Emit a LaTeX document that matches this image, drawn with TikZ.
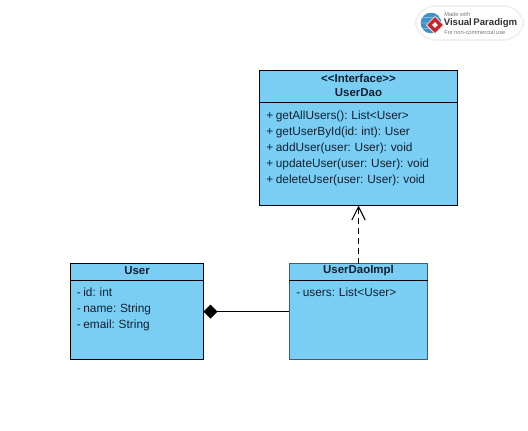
\documentclass[tikz,border=0pt]{standalone}
\usepackage{fontspec}
\setmainfont[WordSpace=0.8]{Liberation Sans}
\usetikzlibrary{arrows.meta,shapes.geometric,calc}
\definecolor{umlfill}{HTML}{7ACEF4}
\definecolor{umltext}{HTML}{102030}
\definecolor{implborder}{HTML}{4A5A66}
\definecolor{globe}{HTML}{3F93C9}
\definecolor{logored}{HTML}{C8242B}
\definecolor{logogray}{HTML}{7A7A7A}
\tikzset{
  classbox/.style={draw=black,fill=umlfill,line width=0.8pt,anchor=north west,inner sep=0pt,outer sep=0pt},
  classtitle/.style={font=\bfseries\fontsize{8.6}{10.6}\selectfont,text=umltext,align=center,inner sep=0pt},
  members/.style={font=\fontsize{8.9}{12.05}\selectfont,text=umltext,align=left,anchor=north west,inner sep=0pt},
  divider/.style={line width=0.8pt},
  conn/.style={line width=0.8pt},
}
\begin{document}
\begin{tikzpicture}[x=0.75pt,y=-0.75pt]
\useasboundingbox[fill=white] (0,0) rectangle (528,430);

% logo
\node[draw=black!6,line width=1.2pt,fill=white,rounded corners=15pt,minimum width=81pt,minimum height=25.5pt,inner sep=0pt] (badge) at (469.5,23) {};
\node[circle,fill=globe,minimum size=15.5pt,inner sep=0pt] (globeicon) at (431,23) {};
\draw[white,line width=0.35pt] (globeicon.north) arc[start angle=90,end angle=270,x radius=5,y radius=10.3]
  (globeicon.north) arc[start angle=90,end angle=-90,x radius=5,y radius=10.3]
  (globeicon.west) -- (globeicon.east)
  ($(globeicon.west)+(1.5,-5.5)$) -- ($(globeicon.east)+(-1.5,-5.5)$)
  ($(globeicon.west)+(1.5,5.5)$) -- ($(globeicon.east)+(-1.5,5.5)$);
\node[diamond,fill=logored,draw=white,line width=0.5pt,minimum size=13pt,inner sep=0pt] (reddiamond) at (435,25) {};
\node[diamond,fill=white,minimum size=4.5pt,inner sep=0pt] (reddot) at (435,25) {};
\node[anchor=west,inner sep=0pt,font=\fontsize{4.3}{5}\selectfont,text=logogray] (made) at (444,14.5) {Made with};
\node[anchor=west,inner sep=0pt,font=\bfseries\fontsize{7.2}{9}\selectfont,text=black!80] (vp) at (443.5,23.5) {Visual\,Paradigm};
\node[anchor=west,inner sep=0pt,font=\fontsize{4.3}{5}\selectfont,text=logogray] (nc) at (444,32) {For non-commercial use};

% UserDao
\node[classbox,minimum width=148.5pt,minimum height=101.25pt] (dao) at (259.5,70.5) {};
\draw[divider] (259.5,102.5) coordinate (daoL) -- (457.5,102.5) coordinate (daoR);
\node[classtitle] (daot) at (358.5,85.5) {{<}{<}Interface{>}{>}\\UserDao};
\node[members] (daom) at (266,110.5) {+ getAllUsers(): List{<}User{>}\\+ getUserById(id: int): User\\+ addUser(user: User): void\\+ updateUser(user: User): void\\+ deleteUser(user: User): void};

% User
\node[classbox,minimum width=99.75pt,minimum height=72pt] (user) at (70.5,263.5) {};
\draw[divider] (70.5,280.5) coordinate (userL) -- (203.5,280.5) coordinate (userR);
\node[classtitle] (usert) at (137,270.8) {User};
\node[members] (userm) at (76.5,287.2) {- id: int\\- name: String\\- email: String};

% UserDaoImpl
\node[classbox,draw=implborder,minimum width=104pt,minimum height=72pt] (impl) at (289.2,263.5) {};
\draw[divider] (289.2,280.5) coordinate (implL) -- (427.8,280.5) coordinate (implR);
\node[classtitle] (implt) at (358.5,270.8) {UserDaoImpl};
\node[members] (implm) at (296,287.2) {- users: List{<}User{>}};

% connectors
\draw[conn,dash pattern=on 4.5pt off 3pt,-{Straight Barb[length=10pt,width=10pt,line width=0.8pt]}] (impl.north) -- (impl.north |- dao.south);
\draw[conn,-{Diamond[length=10.5pt,width=10.5pt,fill=black]}] (impl.west) -- (user.east);
\end{tikzpicture}
\end{document}
